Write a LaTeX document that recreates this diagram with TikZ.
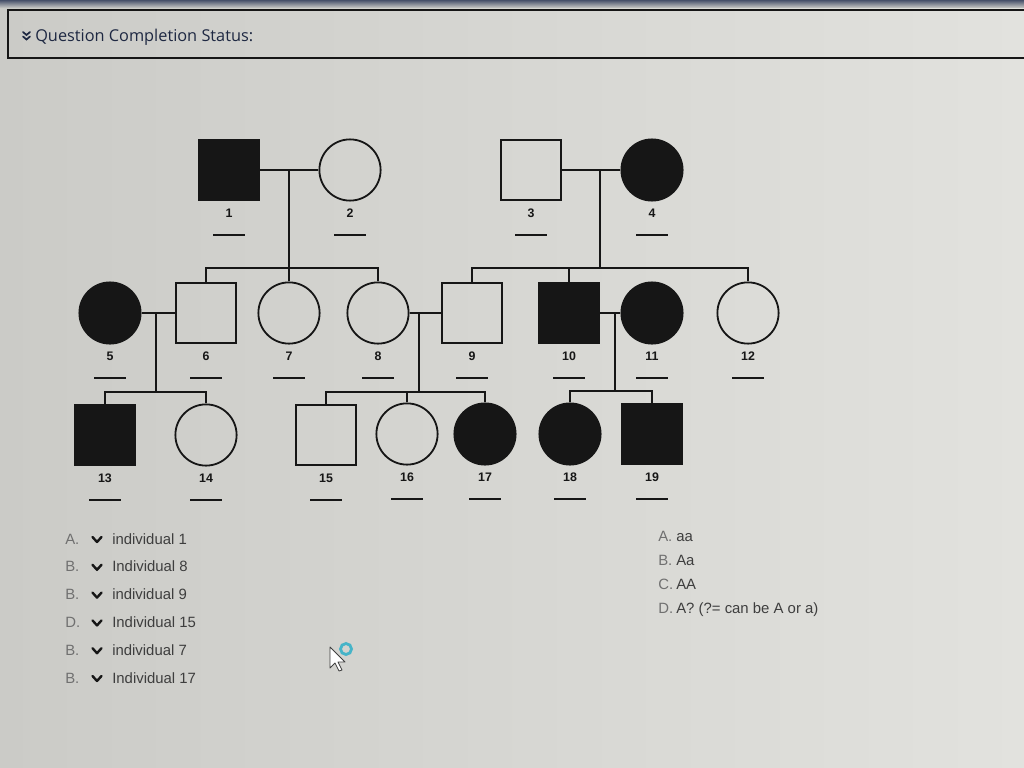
\documentclass[tikz,border=0pt]{standalone}
\usepackage{fontspec}
\setmainfont{Liberation Sans}
\newfontfamily\headfont{Open Sans}
\usetikzlibrary{calc}
\definecolor{bgl}{RGB}{203,203,199}
\definecolor{bgr}{RGB}{226,226,222}
\definecolor{ink}{RGB}{22,22,22}
\definecolor{txt}{RGB}{62,62,62}
\definecolor{lettr}{RGB}{112,112,112}
\definecolor{navy}{RGB}{30,40,66}
\definecolor{spin}{RGB}{70,180,200}
\tikzset{
  male/.style={rectangle,draw=ink,line width=1.3pt,minimum size=1.48cm,inner sep=0pt},
  female/.style={circle,draw=ink,line width=1.3pt,minimum size=1.53cm,inner sep=0pt},
  aff/.style={fill=ink},
  num/.style={font=\fontsize{8.8}{10}\selectfont\bfseries,text=ink,inner sep=0pt},
  blank/.style={fill=ink,minimum width=0.82cm,minimum height=0.05cm,inner sep=0pt},
  link/.style={draw=ink,line width=1.4pt},
  ans/.style={anchor=base west,font=\fontsize{10.6}{12}\selectfont,text=txt,inner sep=0pt},
  opt/.style={anchor=base west,font=\fontsize{10.6}{12}\selectfont,text=lettr,inner sep=0pt},
  chev/.style={draw=ink,line width=1.7pt,line cap=round,line join=round}
}
\begin{document}
\begin{tikzpicture}[x=0.025cm,y=-0.025cm]
\useasboundingbox (0,0) rectangle (1024,768);
\shade[left color=bgl,right color=bgr] (0,0) rectangle (1024,768);
\shade[top color={rgb,255:red,70;green,80;blue,105},bottom color=bgl] (0,0) rectangle (1024,8);
% header bar
\draw[ink,line width=1pt] (8,10) rectangle (1040,58);
\draw[navy,line width=1.2pt,line cap=round] (23,32) -- (26.5,35) -- (30,32) (23,36.5) -- (26.5,39.5) -- (30,36.5);
\node[anchor=base west,font=\headfont\fontsize{11.6}{13}\selectfont,text=navy,inner sep=0pt] (hdr) at (35,41.5) {Question Completion Status:};
% generation I
\node[male,aff] (p1) at (229,170) {};
\node[female] (p2) at (350,170) {};
\node[male] (p3) at (531,170) {};
\node[female,aff] (p4) at (652,170) {};
% generation II
\node[female,aff] (p5) at (110,313) {};
\node[male] (p6) at (206,313) {};
\node[female] (p7) at (289,313) {};
\node[female] (p8) at (378,313) {};
\node[male] (p9) at (472,313) {};
\node[male,aff] (p10) at (569,313) {};
\node[female,aff] (p11) at (652,313) {};
\node[female] (p12) at (748,313) {};
% generation III
\node[male,aff] (p13) at (105,435) {};
\node[female] (p14) at (206,435) {};
\node[male] (p15) at (326,435) {};
\node[female] (p16) at (407,434) {};
\node[female,aff] (p17) at (485,434) {};
\node[female,aff] (p18) at (570,434) {};
\node[male,aff] (p19) at (652,434) {};
% numbers and blanks
\foreach \i in {1,...,19} {
  \node[num] (l\i) at ($(p\i)+(0,43)$) {\i};
  \node[blank] (b\i) at ($(p\i)+(0,65)$) {};
}
% couples
\coordinate (m12) at ($(p1.east)!0.5!(p2.west)$);
\coordinate (m34) at ($(p3.east)!0.645!(p4.west)$);
\coordinate (m56) at ($(p5.east)!0.43!(p6.west)$);
\coordinate (m89) at ($(p8.east)!0.31!(p9.west)$);
\coordinate (m1011) at ($(p10.east)!0.76!(p11.west)$);
\coordinate (s12) at ($(m12)+(0,98)$);
\coordinate (s34) at ($(m34)+(0,98)$);
\coordinate (s56) at ($(m56)+(0,79)$);
\coordinate (s89) at ($(m89)+(0,79)$);
\coordinate (s1011) at ($(m1011)+(0,78)$);
\draw[link] (p1.east) -- (p2.west);
\draw[link] (p3.east) -- (p4.west);
\draw[link] (p5.east) -- (p6.west);
\draw[link] (p8.east) -- (p9.west);
\draw[link] (p10.east) -- (p11.west);
\draw[link] (m12) -- (s12);
\draw[link] (m34) -- (s34);
\draw[link] (m56) -- (s56);
\draw[link] (m89) -- (s89);
\draw[link] (m1011) -- (s1011);
% sibships
\draw[link] (p6.north) |- (s12) -| (p8.north);
\draw[link] (s12) -| (p7.north);
\draw[link] (p9.north) |- (s34) -| (p12.north);
\draw[link] (s34) -| (p10.north);
\draw[link] (p13.north) |- (s56) -| (p14.north);
\draw[link] (p15.north) |- (s89) -| (p17.north);
\draw[link] (s89) -| (p16.north);
\draw[link] (p18.north) |- (s1011) -| (p19.north);
% answers
\foreach \l/\t [count=\k] in {A./individual 1,B./Individual 8,B./individual 9,D./Individual 15,B./individual 7,B./Individual 17} {
  \node[opt] (ql\k) at (65,{544+27.8*(\k-1)}) {\l};
  \draw[chev] (92.5,{537+27.8*(\k-1)}) -- ++(4.5,5) -- ++(4.5,-5);
  \node[ans] (qt\k) at (112,{544+27.8*(\k-1)}) {\t};
}
\foreach \l/\t [count=\k] in {A./aa,B./Aa,C./AA,D./A? (?= can be A or a)} {
  \node[opt] (gl\k) at (658,{541+24.2*(\k-1)}) {\l};
  \node[ans] (gt\k) at (676,{541+24.2*(\k-1)}) {\t};
}
% pointer
\filldraw[fill=white,draw=black!75,line width=0.6pt,line join=round] (330,647) -- (330,668) -- (335,663) -- (339,671) -- (342,670) -- (338,662) -- (345,662) -- cycle;
\draw[spin,line width=2pt] (346,649) circle (5.5);
\end{tikzpicture}
\end{document}
